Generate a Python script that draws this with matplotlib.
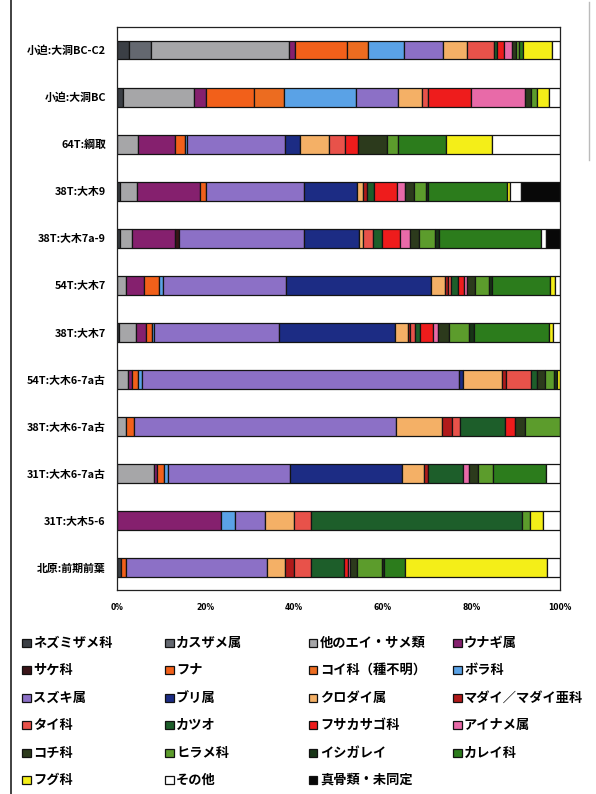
import numpy as np
import matplotlib
matplotlib.use("Agg")
import matplotlib.pyplot as plt
from matplotlib.patches import Rectangle
from matplotlib.lines import Line2D

plt.rcParams['font.family'] = ['Noto Sans CJK JP', 'DejaVu Sans']

# Fish taxa (stacking order, also legend order read row by row)
categories = [
    "ネズミザメ科", "カスザメ属", "他のエイ・サメ類", "ウナギ属",
    "サケ科", "フナ", "コイ科（種不明）", "ボラ科",
    "スズキ属", "ブリ属", "クロダイ属", "マダイ／マダイ亜科",
    "タイ科", "カツオ", "フサカサゴ科", "アイナメ属",
    "コチ科", "ヒラメ科", "イシガレイ", "カレイ科",
    "フグ科", "その他", "真骨類・未同定",
]

colors = [
    "#3b3f45", "#646870", "#a6a6a8", "#85206e",
    "#3a1418", "#f2601a", "#ec6c20", "#5aa2e6",
    "#8c70c6", "#1c2c84", "#f4b066", "#b01a1a",
    "#e8524a", "#1d5e2a", "#ee1c1c", "#e86aa8",
    "#2c3a1c", "#5c9c2c", "#173516", "#2c7c1c",
    "#f4ee18", "#ffffff", "#080808",
]

# Site / layer labels, top to bottom
sites = [
    "小迫:大洞BC-C2", "小迫:大洞BC", "64T:綱取", "38T:大木9",
    "38T:大木7a-9", "54T:大木7", "38T:大木7", "54T:大木6-7a古",
    "38T:大木6-7a古", "31T:大木6-7a古", "31T:大木5-6", "北原:前期前葉",
]

# Composition (%) of each assemblage, one list per site, in category order
oseko_bc_c2 = [2.6, 5.1, 31.2, 1.2, 0, 11.8, 4.7, 8.1, 9.0, 0, 5.2, 0,
               6.1, 0.8, 1.5, 1.9, 0.8, 0.7, 0, 1.0, 6.6, 1.7, 0]
oseko_bc = [1.3, 0, 16.0, 2.9, 0, 10.7, 6.9, 16.1, 9.5, 0, 5.5, 0,
            1.4, 0, 9.6, 12.1, 1.5, 1.3, 0, 0, 2.7, 2.5, 0]
t64_tsunatori = [0, 0, 4.7, 8.4, 0, 2.2, 0, 0.6, 22.0, 3.5, 6.4, 0,
                 3.7, 0, 2.9, 0, 6.6, 2.4, 0, 10.9, 10.3, 15.4, 0]
t38_daigi9 = [0.6, 0, 4.0, 14.1, 0, 1.3, 0, 0, 22.1, 12.1, 1.4, 0.9,
              0, 1.5, 5.3, 1.7, 2.0, 2.8, 0.4, 17.8, 0.8, 2.5, 8.7]
t38_daigi7a_9 = [0.6, 0, 2.8, 9.8, 0.8, 0, 0, 0, 28.3, 12.3, 0.9, 0,
                 2.2, 2.1, 4.1, 2.2, 2.1, 3.6, 0.8, 23.0, 0, 1.2, 3.2]
t54_daigi7 = [0, 0, 2.1, 4.0, 0, 3.4, 0, 0.9, 27.7, 32.7, 3.2, 0.7,
              0.8, 1.4, 1.4, 0.7, 1.9, 3.0, 0.7, 13.2, 1.1, 1.1, 0]
t38_daigi7 = [0.5, 0, 3.7, 2.3, 0, 1.3, 0, 0.5, 28.2, 26.2, 2.9, 0.5,
              1.1, 1.2, 3.0, 1.0, 2.6, 4.5, 1.0, 17.0, 1.0, 1.5, 0]
t54_daigi6_7a = [0, 0, 2.5, 0.8, 0, 1.5, 0, 0.8, 71.6, 0.8, 8.8, 1.1,
                 5.6, 1.3, 0, 0, 1.8, 2.0, 0.8, 0, 0.6, 0, 0]
t38_daigi6_7a = [0, 0, 2.0, 0, 0, 1.9, 0, 0, 59.1, 0, 10.4, 2.2,
                 1.8, 10.2, 2.3, 0, 2.2, 7.9, 0, 0, 0, 0, 0]
t31_daigi6_7a = [0, 0, 8.3, 0.8, 0, 1.6, 0, 0.9, 27.4, 25.3, 4.9, 1.1,
                 0, 7.8, 0, 1.4, 1.9, 3.5, 0, 12.0, 0, 3.1, 0]
t31_daigi5_6 = [0, 0, 0, 23.5, 0, 0, 0, 3.1, 6.7, 0, 6.6, 0,
                3.8, 47.8, 0, 0, 0, 1.8, 0, 0, 2.9, 3.8, 0]
kitahara_early = [0.9, 0, 0, 0, 0, 1.1, 0, 0, 31.8, 0, 4.2, 1.9,
                  3.8, 7.6, 0.8, 0.6, 1.5, 5.7, 0.3, 4.9, 32.0, 2.9, 0]

xticks = [0, 20, 40, 60, 80, 100]
xtick_labels = ["0%", "20%", "40%", "60%", "80%", "100%"]

rows = [oseko_bc_c2, oseko_bc, t64_tsunatori, t38_daigi9, t38_daigi7a_9,
        t54_daigi7, t38_daigi7, t54_daigi6_7a, t38_daigi6_7a,
        t31_daigi6_7a, t31_daigi5_6, kitahara_early]
matrix = np.array(rows, dtype=float)
matrix = matrix / matrix.sum(axis=1, keepdims=True) * 100.0

W, H = 596, 794
fig = plt.figure(figsize=(W / 100, H / 100), dpi=100)
fig.patch.set_facecolor("white")

# page frame lines on both sides of the chart
fig.add_artist(Line2D([11 / W, 11 / W], [0, 1], transform=fig.transFigure,
                      color="#333333", linewidth=1.3))
fig.add_artist(Line2D([589 / W, 589 / W], [1 - 160 / H, 1 - 2 / H],
                      transform=fig.transFigure, color="#bbbbbb",
                      linewidth=1.0))

ax = fig.add_axes([117 / W, 1 - 590 / H, 443 / W, 563 / H])
y = np.arange(len(sites))
left = np.zeros(len(sites))
for j, cat in enumerate(categories):
    vals = matrix[:, j]
    m = vals > 0
    if m.any():
        ax.barh(y[m], vals[m], left=left[m], height=0.40, color=colors[j],
                edgecolor="#141414", linewidth=0.9, label=cat)
    left += vals

ax.set_xlim(0, 100)
ax.set_ylim(len(sites) - 1 + 0.47, -0.49)
ax.set_xticks(xticks)
ax.set_xticklabels(xtick_labels, fontsize=5.5, fontweight="bold",
                   family=["DejaVu Sans"])
ax.set_yticks(y)
ax.set_yticklabels(sites, fontsize=7.8, fontweight="bold")
ax.tick_params(axis="x", length=0, pad=9)
ax.tick_params(axis="y", length=0, pad=8)
for s in ax.spines.values():
    s.set_linewidth(0.9)
    s.set_color("#222222")

# legend: 4 columns, filled row by row
col_x = [22, 165, 309, 453]
row_y = [643, 670, 698, 725, 753, 780]
sq = 8.5
for i, (cat, c) in enumerate(zip(categories, colors)):
    r, k = divmod(i, 4)
    x0, yc = col_x[k], row_y[r]
    fig.add_artist(Rectangle((x0 / W, 1 - (yc + sq / 2) / H), sq / W, sq / H,
                             transform=fig.transFigure, facecolor=c,
                             edgecolor="#111111", linewidth=0.9))
    fig.text((x0 + sq + 2.5) / W, 1 - yc / H, cat, fontsize=9.5,
             fontweight="bold", va="center", ha="left")

fig.savefig("out.png", dpi=100, facecolor="white")
